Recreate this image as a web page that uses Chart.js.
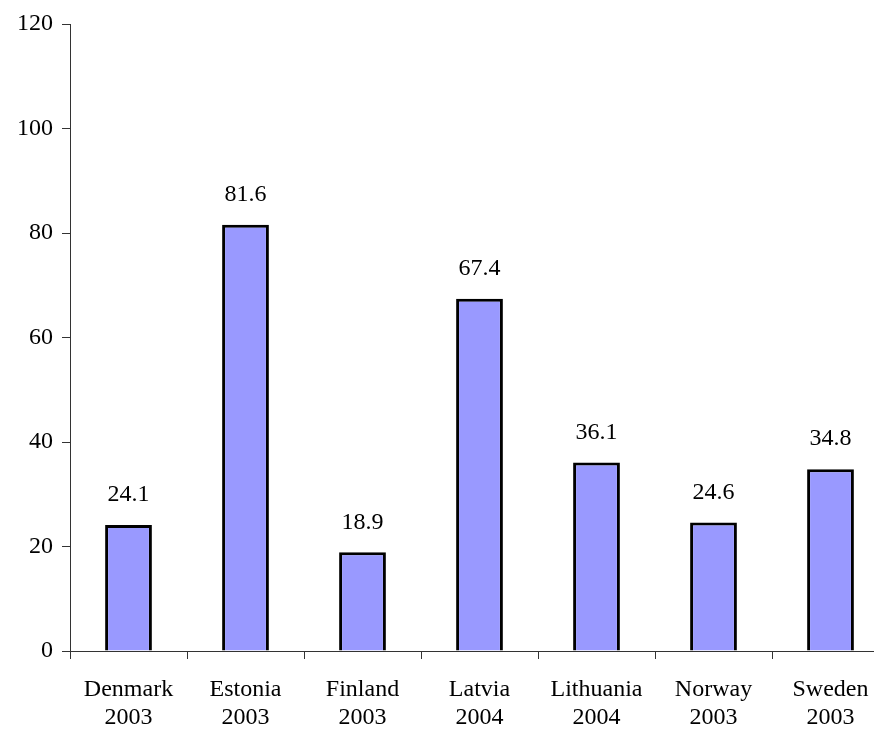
<!DOCTYPE html>
<html>
<head>
<meta charset="utf-8">
<script src="https://cdn.jsdelivr.net/npm/chart.js@4"></script>
<style>
  html, body { margin: 0; padding: 0; background: #fff; overflow: hidden; }
  #chart { display: block; }
</style>
</head>
<body>
<canvas id="chart" width="890" height="729"></canvas>
<script>
const countries = ["Denmark", "Estonia", "Finland", "Latvia", "Lithuania", "Norway", "Sweden"];
const years = ["2003", "2003", "2003", "2004", "2004", "2003", "2003"];
const values = [24.1, 81.6, 18.9, 67.4, 36.1, 24.6, 34.8];
const yTicks = [0, 20, 40, 60, 80, 100, 120];

const labels = countries.map((c, i) => [c, years[i]]);
const font = { family: "'Liberation Serif', 'Times New Roman', serif", size: 24 };
const axisColor = "#333";

// values printed above each bar
const valueLabels = {
  id: "valueLabels",
  afterDatasetsDraw(chart) {
    const ctx = chart.ctx;
    const meta = chart.getDatasetMeta(0);
    ctx.save();
    ctx.font = `${font.size}px ${font.family}`;
    ctx.fillStyle = "#000";
    ctx.textAlign = "center";
    ctx.textBaseline = "middle";
    meta.data.forEach((bar, i) => {
      ctx.fillText(values[i].toFixed(1), bar.x, bar.y - 30);
    });
    ctx.restore();
  },
};

new Chart(document.getElementById("chart"), {
  type: "bar",
  data: {
    labels,
    datasets: [{
      data: values,
      backgroundColor: "#9999FF",
      borderColor: "#000",
      borderWidth: 3,
      categoryPercentage: 0.4,
      barPercentage: 1,
    }],
  },
  options: {
    responsive: false,
    animation: false,
    layout: { padding: { top: 24, left: 0, right: 1, bottom: 0 } },
    plugins: { legend: { display: false }, tooltip: { enabled: false } },
    scales: {
      x: {
        grid: { display: true, drawOnChartArea: false, drawTicks: true, tickLength: 8, color: axisColor, offset: true },
        border: { display: true, color: axisColor, width: 1 },
        ticks: { color: "#000", font: { ...font, lineHeight: 1.2 }, padding: 16, maxRotation: 0, autoSkip: false },
        afterFit(scale) { scale.height = 78; },
      },
      y: {
        min: 0,
        max: 120,
        afterBuildTicks(scale) { scale.ticks = yTicks.map(v => ({ value: v })); },
        grid: { display: true, drawOnChartArea: false, drawTicks: true, tickLength: 8, color: axisColor },
        border: { display: true, color: axisColor, width: 1 },
        ticks: { color: "#000", font, padding: 9 },
        afterFit(scale) { scale.width = 70; },
      },
    },
  },
  plugins: [valueLabels],
});
</script>
</body>
</html>
